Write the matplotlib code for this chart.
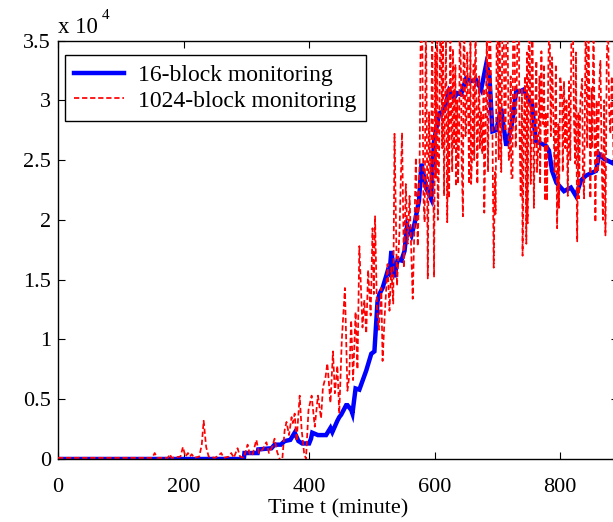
import matplotlib
matplotlib.use("Agg")
import matplotlib.pyplot as plt
from matplotlib.ticker import FuncFormatter

# Time axis (minutes) and monitored counts (in units of 10^4)
t16 = [0, 296, 297, 318, 319, 340, 345, 355, 361, 370, 377, 383, 389, 400, 403, 405,
       414, 427, 434, 437, 445, 448, 451, 459, 461, 467, 469, 474, 480, 491, 499, 504,
       509, 512, 517, 525, 528, 531, 536, 541, 547, 552, 556, 563, 568, 572, 575, 579,
       586, 594, 599, 607, 615, 623, 631, 636, 642, 650, 658, 666, 674, 682, 687, 692,
       698, 706, 714, 722, 730, 734, 742, 750, 755, 761, 769, 777, 782, 787, 794, 806,
       817, 825, 833, 841, 849, 857, 862, 870, 885]
v16 = [0, 0, 0.05, 0.05, 0.08, 0.09, 0.12, 0.12, 0.15, 0.16, 0.22, 0.15, 0.13, 0.13, 0.17, 0.22,
       0.20, 0.20, 0.26, 0.225, 0.32, 0.35, 0.37, 0.45, 0.45, 0.41, 0.38, 0.59, 0.58, 0.74, 0.88, 0.90,
       1.32, 1.38, 1.43, 1.57, 1.55, 1.74, 1.52, 1.67, 1.66, 1.74, 1.95, 1.87, 1.97, 2.08, 2.16, 2.47,
       2.27, 2.18, 2.66, 2.89, 2.91, 3.08, 3.02, 3.06, 3.05, 3.18, 3.16, 3.17, 3.09, 3.30, 3.22, 2.74,
       2.75, 2.93, 2.62, 2.77, 3.08, 3.07, 3.09, 3.00, 2.97, 2.66, 2.64, 2.62, 2.58, 2.41, 2.31, 2.24,
       2.27, 2.20, 2.33, 2.37, 2.39, 2.41, 2.55, 2.51, 2.47]

t1024 = [0, 150, 154, 158, 175, 178, 181, 195, 199, 203, 207, 210, 213, 217, 225, 229,
         232, 236, 240, 250, 256, 260, 264, 272, 276, 280, 286, 290, 296, 302, 306, 310,
         316, 320, 326, 332, 336, 341, 345, 349, 353, 357, 361, 364, 368, 372, 374, 377,
         380, 385, 388, 392, 395, 399, 404, 409, 414, 419, 422, 426, 429, 434, 438, 441,
         445, 448, 452, 457, 461, 464, 467, 470, 474, 477, 480, 485, 488, 491, 494, 498,
         501, 503, 505, 508, 511, 515, 517, 520, 525, 528, 531, 534, 536, 540, 544, 548,
         551, 554, 557, 560, 565, 568, 570, 573,
         576, 578, 580, 582, 584, 586, 587, 589, 591, 592, 594, 596, 597, 599, 601, 602,
         604, 605, 607, 609, 610, 612, 613, 615, 616, 618, 620, 622, 623, 625, 626, 628,
         629, 631, 633, 634, 636, 637, 639, 640, 642, 643, 645, 646, 647, 649, 650, 652,
         653, 655, 657, 658, 660, 662, 663, 665, 666, 668, 669, 671, 672, 674, 676, 678,
         679, 681, 683, 685, 687, 688, 690, 692, 694, 696, 697, 699, 700, 702, 703, 705,
         706, 708, 710, 711, 713, 714, 716, 718, 720, 721, 722, 724, 725, 727, 729, 730,
         732, 734, 735, 737, 739, 740, 742, 744, 745, 746, 747, 748, 750, 751, 753, 755,
         756, 758, 760, 762, 763, 765, 767, 768, 770, 771, 773, 774, 776, 777, 779, 781,
         783, 785, 787, 789, 791, 793, 795, 797, 798, 800, 803, 804, 806, 808, 810, 812,
         814, 816, 818, 820, 822, 824, 825, 827, 829, 830, 832, 835, 836, 838, 840, 841,
         843, 845, 846, 848, 850, 851, 853, 856, 858, 860, 862, 864, 866, 868, 870, 872,
         874, 876, 878, 880, 882, 885]
v1024 = [0.01, 0.01, 0.05, 0.01, 0.01, 0.04, 0.01, 0.02, 0.10, 0.02, 0.05, 0.02, 0.04, 0.01, 0.02, 0.12,
         0.32, 0.10, 0.02, 0.01, 0.03, 0.05, 0.01, 0.02, 0.05, 0.01, 0.09, 0.02, 0.01, 0.12, 0.03, 0.04,
         0.16, 0.05, 0.08, 0.14, 0.05, 0.10, 0.17, 0.06, 0.00, -0.02, 0.24, 0.31, 0.20, 0.35, 0.30, 0.38,
         0.15, 0.53, 0.25, 0.05, 0.00, 0.41, 0.53, 0.27, 0.53, 0.34, 0.60, 0.68, 0.80, 0.47, 0.90, 0.55,
         0.78, 0.38, 0.99, 1.43, 0.57, 0.70, 1.16, 0.66, 1.23, 0.75, 1.78, 1.10, 1.33, 1.05, 1.58, 1.20,
         1.93, 1.38, 2.03, 1.27, 1.08, 1.43, 0.82, 1.16, 1.63, 1.24, 1.60, 1.30, 2.72, 1.45, 1.91, 2.73,
         1.60, 2.30, 1.80, 2.20, 1.34, 2.00, 2.52, 1.78,
         2.47, 3.70, 3.70, 2.20, 1.98, 3.70, 3.12, 1.51, 2.90, 2.60, 2.20, 3.70, 3.00, 1.52, 3.40, 2.35,
         3.70, 2.00, 2.50, 3.70, 3.70, 2.60, 3.70, 2.20, 2.80, 3.50, 1.98, 3.10, 2.18, 3.70, 3.02, 2.40,
         3.43, 2.60, 3.30, 2.28, 3.00, 2.30, 2.68, 3.70, 3.20, 2.50, 2.03, 3.40, 3.70, 2.70, 2.74, 3.40,
         3.07, 2.30, 3.50, 2.30, 2.58, 3.30, 2.50, 3.70, 3.18, 2.30, 2.80, 3.20, 2.60, 2.90, 2.55, 3.10,
         2.06, 2.70, 3.50, 2.40, 3.70, 3.70, 3.07, 2.74, 1.60, 2.40, 2.05, 3.70, 3.70, 2.50, 3.70, 3.00,
         2.40, 3.70, 3.70, 2.80, 2.74, 3.70, 3.70, 2.50, 2.58, 3.20, 2.35, 2.35, 3.70, 3.70, 2.60, 2.90,
         3.60, 3.70, 2.80, 2.20, 3.10, 1.70, 2.80, 3.20, 2.40, 1.80, 3.40, 1.97, 3.70, 3.70, 2.30, 3.70,
         3.50, 2.10, 2.90, 3.33, 2.40, 2.60, 3.20, 2.30, 3.41, 2.90, 2.80, 3.30, 2.16, 2.90, 2.16, 3.30,
         3.70, 2.70, 3.36, 2.90, 2.40, 3.30, 1.93, 2.80, 2.10, 3.20, 3.02, 2.40, 3.16, 2.60, 3.00, 2.20,
         3.16, 2.50, 3.70, 3.70, 2.80, 2.47, 3.40, 1.82, 2.90, 2.18, 3.00, 3.18, 2.40, 2.18, 3.40, 3.70,
         2.60, 3.70, 3.20, 2.18, 3.10, 2.60, 3.70, 1.98, 3.00, 2.40, 3.10, 3.33, 2.50, 2.00, 3.00, 1.87,
         3.30, 3.70, 2.90, 2.72, 3.20, 2.50]

x_ticks = [0, 200, 400, 600, 800]
y_ticks = [0, 0.5, 1, 1.5, 2, 2.5, 3, 3.5]
labels = ["16-block monitoring", "1024-block monitoring"]

W, H = 613, 522
serif = ["Liberation Serif", "DejaVu Serif"]
plt.rcParams["font.family"] = serif
plt.rcParams["lines.scale_dashes"] = False

fig = plt.figure(figsize=(W / 100, H / 100), dpi=100)
left, right, top, bottom = 58, 618, 40.5, 459
ax = fig.add_axes([left / W, 1 - bottom / H, (right - left) / W, (bottom - top) / H])

ax.plot(t16, v16, color="#0000ff", lw=3.2, solid_joinstyle="miter", label=labels[0], zorder=2)
ax.plot(t1024, v1024, color="#ff0000", lw=1.25, dashes=(3.8, 2.0), label=labels[1], zorder=3)

ax.set_xlim(0, 892)
ax.set_ylim(0, 3.5)
ax.set_xticks(x_ticks)
ax.set_yticks(y_ticks)
ax.yaxis.set_major_formatter(FuncFormatter(lambda v, p: "%g" % v))
ax.tick_params(direction="in", length=5, width=0.8, top=True, right=True,
               labelsize=16, colors="black")
ax.tick_params(axis="x", pad=14)
ax.tick_params(axis="y", pad=5)
for s in ax.spines.values():
    s.set_linewidth(1.0)
    s.set_color("black")

ax.set_xlabel("Time t (minute)", fontsize=16, labelpad=1)

# exponent marker above the y axis
fig.text(58 / W, 1 - 33 / H, "x 10", fontsize=16.5, ha="left", va="baseline")
fig.text(102 / W, 1 - 19 / H, "4", fontsize=11, ha="left", va="baseline")

leg = ax.legend(loc="upper left", bbox_to_anchor=(7 / (right - left), 1 - 15 / (bottom - top)),
                borderaxespad=0, fontsize=17, handlelength=2.1, handletextpad=0.6,
                borderpad=0.4, labelspacing=0.15, fancybox=False, framealpha=1)
leg.get_frame().set_edgecolor("black")
leg.get_frame().set_linewidth(1.0)

fig.savefig("out.png", dpi=100)
